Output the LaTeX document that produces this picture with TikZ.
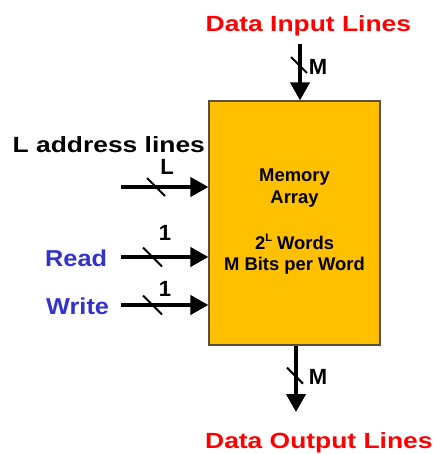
\documentclass[tikz,border=0pt]{standalone}
\usepackage{fontspec}
\setmainfont{Liberation Sans}
\usetikzlibrary{arrows.meta,calc}
\definecolor{memfill}{RGB}{255,192,0}
\definecolor{memedge}{RGB}{90,80,60}
\definecolor{titlered}{RGB}{255,0,0}
\definecolor{ctrlblue}{RGB}{51,51,204}
\tikzset{
  bus/.style={line width=4pt, -{Triangle[length=18pt,width=19pt]}},
  slash/.style={line width=2pt},
  bigtext/.style={inner sep=0pt, font=\bfseries\fontsize{22}{26}\selectfont},
  ctrltext/.style={inner sep=0pt, text=ctrlblue, font=\bfseries\fontsize{23}{27}\selectfont},
  widthlabel/.style={inner sep=0pt, anchor=base, font=\bfseries\fontsize{22}{26}\selectfont},
  intext/.style={inner sep=0pt, anchor=base, font=\bfseries\fontsize{18.4}{22}\selectfont},
}
\newcommand{\wide}[2]{\scalebox{#1}[1]{#2}}
\begin{document}
\begin{tikzpicture}[x=1pt,y=-1pt]
\useasboundingbox (0,0) rectangle (436,454);

% memory block
\node[draw=memedge, fill=memfill, line width=1.2pt, minimum width=171pt,
      minimum height=244pt, inner sep=0pt] (mem) at (294.5,223) {};

\node[intext] (t1) at (294.5,181.7) {Memory};
\node[intext] (t2) at (294.5,203.3) {Array};
\node[intext] (t3) at (294.5,249) {2\raisebox{0.42em}{\fontsize{11}{11}\selectfont L} Words};
\node[intext] (t4) at (294.5,270) {M Bits per Word};

% titles and input labels
\node[bigtext, text=titlered, anchor=base west] (din) at (205.5,31.3) {\wide{1.2}{Data Input Lines}};
\node[bigtext, text=titlered, anchor=base west] (dout) at (205,448.3) {\wide{1.2}{Data Output Lines}};
\node[bigtext, anchor=base west] (addr) at (12.5,152.3) {\wide{1.2}{L address lines}};
\node[ctrltext, anchor=base west] (rd) at (45,266.7) {\wide{1.1}{Read}};
\node[ctrltext, anchor=base west] (wr) at (46,314) {\wide{1.1}{Write}};

% connector start and end points
\coordinate (aS) at (121,187);
\coordinate (rS) at (121,257);
\coordinate (wS) at (121,305);
\coordinate (iS) at (300,44);
\coordinate (oE) at (296,412);

% buses into and out of the block
\draw[bus] (aS) -- (aS -| mem.west);
\draw[bus] (rS) -- (rS -| mem.west);
\draw[bus] (wS) -- (wS -| mem.west);
\draw[bus] (iS) -- (iS |- mem.north);
\draw[bus] (oE |- mem.south) -- (oE);

% bus width marks
\draw[slash] ($(aS)+(35,0)$) ++(-9,-9) -- ++(18,18);
\draw[slash] ($(rS)+(31.5,0)$) ++(-9.5,-9.5) -- ++(19,19);
\draw[slash] ($(wS)+(31.5,0)$) ++(-9.5,-9.5) -- ++(19,19);
\draw[slash] ($(iS)+(-1,21)$) ++(-8,-8) -- ++(16,16);
\draw[slash] ($(oE |- mem.south)+(-1,30)$) ++(-8,-8) -- ++(16,16);

% bus width labels
\node[widthlabel] (la) at (167,175) {L};
\node[widthlabel] (lr) at (165,240) {1};
\node[widthlabel] (lw) at (165,296.7) {1};
\node[widthlabel] (li) at (318,75) {M};
\node[widthlabel] (lo) at (318,384) {M};
\end{tikzpicture}
\end{document}
